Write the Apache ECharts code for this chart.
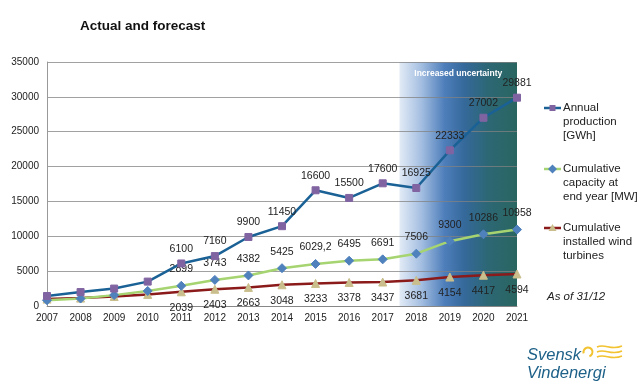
<!DOCTYPE html>
<html>
<head>
<meta charset="utf-8">
<script src="https://cdn.jsdelivr.net/npm/echarts@6/dist/echarts.min.js"></script>
<style>html,body{margin:0;padding:0;background:#fff}#c{width:640px;height:389px}</style>
</head>
<body>
<div id="c"></div>
<script>
var years = [2007,2008,2009,2010,2011,2012,2013,2014,2015,2016,2017,2018,2019,2020,2021];
var production = [1430,2000,2500,3500,6100,7160,9900,11450,16600,15500,17600,16925,22333,27002,29881];
var capacity = [830,1070,1560,2160,2899,3743,4382,5425,6029.2,6495,6691,7506,9300,10286,10958];
var turbines = [990,1130,1360,1660,2039,2403,2663,3048,3233,3378,3437,3681,4154,4417,4594];
var yTicks = [0,5000,10000,15000,20000,25000,30000,35000];
var seriesNames = ['Annual production [GWh]','Cumulative capacity at end year [MW]','Cumulative installed wind turbines'];
var legendTexts = ['Annual\nproduction\n[GWh]','Cumulative\ncapacity at\nend year [MW]','Cumulative\ninstalled wind\nturbines'];
var labelFromIndex = 4;
var uncertaintyStart = 2017.5, uncertaintyEnd = 2021;

var FONT = '"Liberation Sans", Arial, sans-serif';
function pts(arr){
  return years.map(function(y,i){ return {value:[y, arr[i]], label:{show: i >= labelFromIndex}}; });
}
function fmt(p){ return String(p.value[1]).replace('.', ','); }

var colors = {
  prodLine:'#1a6196', prodMark:'#8064a2',
  capLine:'#a6d470', capMark:'#4f81bd',
  turbLine:'#8b1a1a', turbMark:'#c9be8c'
};

// legend drawn as graphic (icon aligned to first text line, as in the reference)
var legendY = [108, 169, 228];
var legendGraphics = [];
var lineCols = [colors.prodLine, colors.capLine, colors.turbLine];
legendY.forEach(function(cy, i){
  legendGraphics.push({type:'line', shape:{x1:544, y1:cy, x2:561, y2:cy}, style:{stroke:lineCols[i], lineWidth:2.5}});
  if (i === 0) legendGraphics.push({type:'rect', shape:{x:549.5, y:cy-3, width:6, height:6}, style:{fill:colors.prodMark}});
  if (i === 1) legendGraphics.push({type:'polygon', shape:{points:[[552.5,cy-4.5],[557,cy],[552.5,cy+4.5],[548,cy]]}, style:{fill:colors.capMark}});
  if (i === 2) legendGraphics.push({type:'polygon', shape:{points:[[552.5,cy-4],[556.5,cy+3],[548.5,cy+3]]}, style:{fill:colors.turbMark}});
  legendGraphics.push({type:'text', left:563, top:cy-7, style:{text:legendTexts[i], font:'11.5px '+FONT, lineHeight:14, fill:'#222'}});
});

var chart = echarts.init(document.getElementById('c'));
chart.setOption({
  animation:false,
  backgroundColor:'#fff',
  title:{text:'Actual and forecast', left:75, top:14,
    textStyle:{fontFamily:FONT, fontSize:13.5, fontWeight:'bold', color:'#111'}},
  grid:{left:47, right:123, top:62, bottom:83},
  xAxis:{type:'value', min:years[0], max:years[years.length-1], interval:1,
    axisLine:{show:true, lineStyle:{color:'#999'}}, axisTick:{show:false}, splitLine:{show:false},
    axisLabel:{formatter:function(v){return String(v);}, fontFamily:FONT, fontSize:10, color:'#222', margin:7}},
  yAxis:{type:'value', min:yTicks[0], max:yTicks[yTicks.length-1], interval:5000, z:2,
    axisLine:{show:true, lineStyle:{color:'#999'}}, axisTick:{show:false},
    splitLine:{lineStyle:{color:'rgba(130,130,130,0.75)', width:1}},
    axisLabel:{formatter:function(v){return String(v);}, fontFamily:FONT, fontSize:10, color:'#222', margin:8}},
  series:[
    {type:'line', name:'uncertainty', data:[], z:1, silent:true,
      markArea:{silent:true,
        itemStyle:{color:{type:'linear', x:0, y:0, x2:1, y2:0, colorStops:[
          {offset:0, color:'#e2ebf6'},
          {offset:0.18, color:'#a6c0e2'},
          {offset:0.38, color:'#4f7fbb'},
          {offset:0.55, color:'#35699b'},
          {offset:0.75, color:'#2c6775'},
          {offset:1, color:'#2a6660'}]}},
        label:{show:true, position:'insideTop', distance:7, color:'#fff', fontFamily:FONT, fontSize:8.5, fontWeight:'bold'},
        data:[[{name:'Increased uncertainty', coord:[uncertaintyStart, yTicks[yTicks.length-1]]},
               {coord:[uncertaintyEnd, yTicks[0]]}]]}},
    {type:'line', name:seriesNames[2], z:3, data:pts(turbines),
      symbol:'triangle', symbolSize:8, lineStyle:{color:colors.turbLine, width:2.5},
      itemStyle:{color:colors.turbMark, borderColor:colors.turbMark},
      label:{position:'bottom', distance:6, formatter:fmt, fontFamily:FONT, fontSize:10.5, color:'#222'}},
    {type:'line', name:seriesNames[1], z:4, data:pts(capacity),
      symbol:'diamond', symbolSize:9, lineStyle:{color:colors.capLine, width:2.5},
      itemStyle:{color:colors.capMark, borderColor:colors.capMark},
      label:{position:'top', distance:6, formatter:fmt, fontFamily:FONT, fontSize:10.5, color:'#222'}},
    {type:'line', name:seriesNames[0], z:5, data:pts(production),
      symbol:'rect', symbolSize:7, lineStyle:{color:colors.prodLine, width:2.5},
      itemStyle:{color:colors.prodMark, borderColor:colors.prodMark},
      label:{position:'top', distance:5, formatter:fmt, fontFamily:FONT, fontSize:10.5, color:'#222'}}
  ],
  graphic:legendGraphics.concat([
    {type:'text', left:547, top:291, style:{text:'As of 31/12', font:'italic 11.5px '+FONT, fill:'#222'}},
    {type:'text', left:527, top:346, style:{text:'Svensk\nVindenergi', font:'italic 16.5px '+FONT, lineHeight:18, fill:'#1d6088'}},
    {type:'arc', shape:{cx:588, cy:352, r:4.5, startAngle:-Math.PI*1.1, endAngle:Math.PI*0.4}, style:{stroke:'#f2c230', lineWidth:2, fill:null}},
    {type:'bezierCurve', shape:{x1:597, y1:347, cpx1:605, cpy1:343, cpx2:611, cpy2:351, x2:622, y2:346}, style:{stroke:'#f2c230', lineWidth:1.5, fill:null}},
    {type:'bezierCurve', shape:{x1:597, y1:352, cpx1:605, cpy1:348, cpx2:611, cpy2:356, x2:622, y2:351}, style:{stroke:'#f2c230', lineWidth:1.5, fill:null}},
    {type:'bezierCurve', shape:{x1:597, y1:357, cpx1:605, cpy1:353, cpx2:611, cpy2:361, x2:622, y2:356}, style:{stroke:'#f2c230', lineWidth:1.5, fill:null}}
  ])
});
</script>
</body>
</html>
